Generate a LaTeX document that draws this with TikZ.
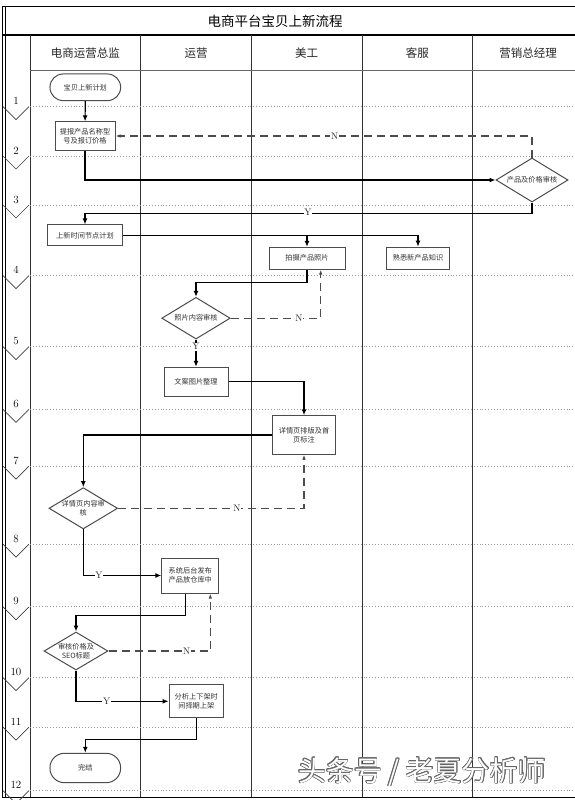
\documentclass[tikz,border=0pt]{standalone}
\usepackage{fontspec}
\newfontfamily\cjk{Noto Sans CJK SC}
\usepackage[copies]{contour}
\contourlength{0.55pt}
\usetikzlibrary{arrows.meta,shapes.geometric,calc}
\newcommand\dtxt[1]{\makebox[0pt]{#1}}
\begin{document}
\begin{tikzpicture}[x=1pt,y=-1pt,
  laneline/.style={draw=black!80,line width=0.9pt},
  rowline/.style={draw=black!40,line width=0.9pt,dotted},
  chev/.style={draw=black!75,line width=0.7pt},
  rownum/.style={font=\fontsize{11}{11}\selectfont,anchor=base,inner sep=0pt},
  head/.style={font=\cjk\fontsize{11.5}{12}\selectfont,text=black!85},
  proc/.style={draw=black!70,line width=1pt,fill=white,inner sep=1pt,
    font=\cjk\fontsize{7.2}{9}\selectfont,align=center,text=black!80},
  dec/.style={draw=black!70,line width=1pt,fill=white,shape=diamond,inner sep=0pt,
    font=\cjk\fontsize{7.2}{9}\selectfont,align=center,text=black!80},
  flow/.style={draw=black,line width=1.2pt,-{Latex[length=6pt,width=5pt]}},
  back/.style={draw=black!70,line width=1.1pt,dash pattern=on 8pt off 5pt,
    -{Latex[length=5pt,width=3.5pt]}},
  yn/.style={fill=white,inner sep=0.6pt,font=\fontsize{9.5}{9.5}\selectfont,text=black!85}
]
\useasboundingbox (0,0) rectangle (575,800);
\clip (0,0) rectangle (575,800);

% frame
\draw[line width=1pt] (2,7) rectangle (600,797);
\draw[line width=0.8pt] (5,7) -- (5,797);
\draw[line width=1.8pt] (2,35) -- (600,35);
\node[font=\cjk\fontsize{13.5}{14}\selectfont] (title) at (275,21.5) {电商平台宝贝上新流程};

% lanes
\foreach \x in {30,140.7,251.4,362.1,472.8} {\draw[laneline] (\x,35) -- (\x,797);}
\draw[black!60,line width=1.5pt] (30,70.7) -- (600,70.7);
\node[head] (h1) at (85.3,53.3) {电商运营总监};
\node[head] (h2) at (196,53.3) {运营};
\node[head] (h3) at (306.7,53.3) {美工};
\node[head] (h4) at (417.4,53.3) {客服};
\node[head] (h5) at (528.1,53.3) {营销总经理};

% phase rows
\foreach \y/\n in {106.7/1,156/2,205/3,275.7/4,346.7/5,409.4/6,466/7,544/8,606.8/9,677.7/10,727/11,790.7/12} {
  \draw[rowline] (30,\y) -- (600,\y);
  \draw[chev] (3,\y) -- (16,\y+13) -- (29,\y);
  \node[rownum] (r\n) at (16,\y-2) {\n};
}

% nodes
\node[proc,rounded corners=13.3pt,minimum width=70.7pt,minimum height=26.7pt] (t1) at (85.3,87.3) {宝贝上新计划};
\node[proc,minimum width=60pt,minimum height=28.3pt] (b1) at (85,136) {提报产品名称型\\号及报订价格};
\node[dec,minimum width=72pt,minimum height=44pt] (d1) at (532,180) {\dtxt{产品及价格审核}};
\node[proc,minimum width=74.6pt,minimum height=20.7pt] (b2) at (85,235.3) {上新时间节点计划};
\node[proc,minimum width=76pt,minimum height=21.7pt] (b3) at (307,258.2) {拍摄产品照片};
\node[proc,minimum width=63pt,minimum height=22pt] (b4) at (418,258.2) {熟悉新产品知识};
\node[dec,minimum width=68.5pt,minimum height=41.7pt] (d2) at (196,318.2) {\dtxt{照片内容审核}};
\node[proc,minimum width=64pt,minimum height=28.7pt] (b5) at (196,381.7) {文案图片整理};
\node[proc,minimum width=62.5pt,minimum height=38.3pt] (b6) at (304,434.9) {详情页排版及首\\页标注};
\node[dec,minimum width=68.6pt,minimum height=41.3pt] (d3) at (83.3,508.3) {\dtxt{详情页内容审}\\\dtxt{核}};
\node[proc,minimum width=57pt,minimum height=35pt] (b7) at (190.3,575.5) {系统后台发布\\产品放仓库中};
\node[dec,minimum width=64pt,minimum height=38pt] (d4) at (76,651) {\dtxt{审核价格及}\\\dtxt{SEO标题}};
\node[proc,minimum width=54.5pt,minimum height=32.7pt] (b8) at (196.3,701.3) {分析上下架时\\间择期上架};
\node[proc,rounded corners=14.5pt,minimum width=70.7pt,minimum height=29.4pt] (t2) at (85.3,768) {完结};

% connectors
\draw[flow] (t1) -- (b1);
\draw[flow] (b1.south) |- (d1.west);
\draw[back] (d1.north) |- (b1.east);
\draw[flow] (d1.south) -- ++(0,10.7) -| (b2.north);
\draw[flow] (b2.east) -| (b4.north);
\draw[flow] (b2.east) -| (b3.north);
\draw[flow] (b3.south) -- ++(0,13.3) -| (d2.north);
\draw[back] (d2.east) -| ($(b3.south)+(13.7,0)$);
\draw[flow] (d2.south) -- (b5.north);
\draw[flow] (b5.east) -| (b6.north);
\draw[flow] (b6.west) -| (d3.north);
\draw[back] (d3.east) -| (b6.south);
\draw[flow] (d3.south) |- (b7.west);
\draw[flow] ($(b7.south)+(-4.6,0)$) -- ++(0,22) -| (d4.north);
\draw[back] (d4.east) -| ($(b7.south)+(20,0)$);
\draw[flow] (d4.south) |- (b8.west);
\draw[flow] (b8.south) -- ++(0,21.6) -| (t2.north);

% Y / N labels
\node[yn] (n1) at (334.6,136) {N};
\node[yn] (y1) at (308,212.7) {Y};
\node[yn] (n2) at (299,318.2) {N};
\node[yn] (y2) at (196,346.7) {Y};
\node[yn] (n3) at (237,508.3) {N};
\node[yn] (y3) at (99,575.5) {Y};
\node[yn] (n4) at (186.8,651) {N};
\node[yn] (y4) at (106.6,701.3) {Y};

% watermark
\node[font=\cjk\fontsize{28}{28}\selectfont,text=white,inner sep=0pt] (wm) at (422,772) {\contour{black!60}{头条号 / 老夏分析师}};
\end{tikzpicture}
\end{document}
